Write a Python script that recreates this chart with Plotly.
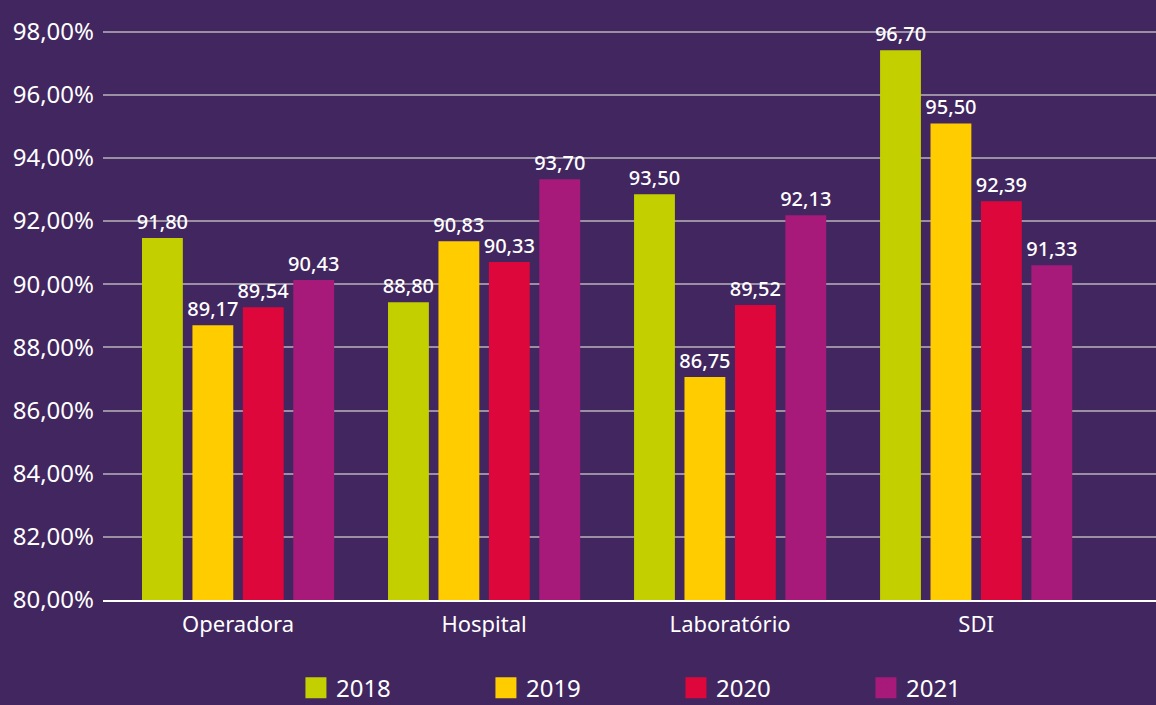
import plotly.graph_objects as go

categories = ["Operadora", "Hospital", "Laboratório", "SDI"]
years = ["2018", "2019", "2020", "2021"]
colors = ["#C4CF00", "#FFCC00", "#DE073C", "#A71A7A"]

# bar heights as drawn (percent)
v2018 = [91.46, 89.43, 92.85, 97.41]
v2019 = [88.70, 91.36, 87.06, 95.09]
v2020 = [89.27, 90.70, 89.34, 92.63]
v2021 = [90.13, 93.32, 92.18, 90.60]

# printed labels
t2018 = ["91,80", "88,80", "93,50", "96,70"]
t2019 = ["89,17", "90,83", "86,75", "95,50"]
t2020 = ["89,54", "90,33", "89,52", "92,39"]
t2021 = ["90,43", "93,70", "92,13", "91,33"]

tick_vals = [80, 82, 84, 86, 88, 90, 92, 94, 96, 98]
tick_text = ["80,00%", "82,00%", "84,00%", "86,00%", "88,00%", "90,00%",
             "92,00%", "94,00%", "96,00%", "98,00%"]

values = [v2018, v2019, v2020, v2021]
texts = [t2018, t2019, t2020, t2021]

FONT = "Noto Sans"
BG = "#42265F"

fig = go.Figure()
for y, vals, txt, col in zip(years, values, texts, colors):
    fig.add_trace(go.Bar(
        name=y, x=categories, y=[v - 80 for v in vals], base=80,
        marker=dict(color=col, line=dict(width=0)),
        text=txt, textposition="outside", cliponaxis=False, constraintext="none",
        textfont=dict(color="white", size=20, family=FONT, weight=500),
        hoverinfo="skip", showlegend=False, legendgroup=y,
    ))
# legend swatches (square markers matching series colours)
for y, col in zip(years, colors):
    fig.add_trace(go.Scatter(
        name=y, x=[None], y=[None], mode="markers", legendgroup=y,
        marker=dict(symbol="square", size=16, color=col, line=dict(color=col, width=5)),
        hoverinfo="skip",
    ))

fig.update_layout(
    width=1156, height=705,
    paper_bgcolor=BG, plot_bgcolor=BG,
    margin=dict(l=103, r=0, t=0, b=105),
    barmode="group", bargap=0.18, bargroupgap=0.19,
    font=dict(family=FONT, color="white", size=20),
    showlegend=True,
    legend=dict(orientation="h", xref="container", x=0.256, xanchor="left",
                yref="container", y=0.024, yanchor="middle",
                font=dict(size=24, color="white", family=FONT),
                entrywidth=145, entrywidthmode="pixels", itemwidth=30,
                bgcolor="rgba(0,0,0,0)", itemclick=False, itemdoubleclick=False),
)
fig.update_xaxes(
    range=[-0.549, 3.731], showgrid=False, showline=True, linecolor="white",
    linewidth=2, ticks="", ticklabelstandoff=4,
    tickfont=dict(size=22, color="white", family=FONT),
    fixedrange=True,
)
fig.update_yaxes(
    range=[80, 99], tickvals=tick_vals, ticktext=tick_text, showgrid=True,
    gridcolor="#9A8FA3", gridwidth=1.5, zeroline=False, showline=False,
    ticks="", ticklabelstandoff=8, tickfont=dict(size=24, color="white", family=FONT),
    fixedrange=True,
)

fig.write_html(
    "out.html",
    config={"displayModeBar": False},
    post_script="document.body.style.margin='0';document.body.style.padding='0';"
                "document.documentElement.style.overflow='hidden';",
)
